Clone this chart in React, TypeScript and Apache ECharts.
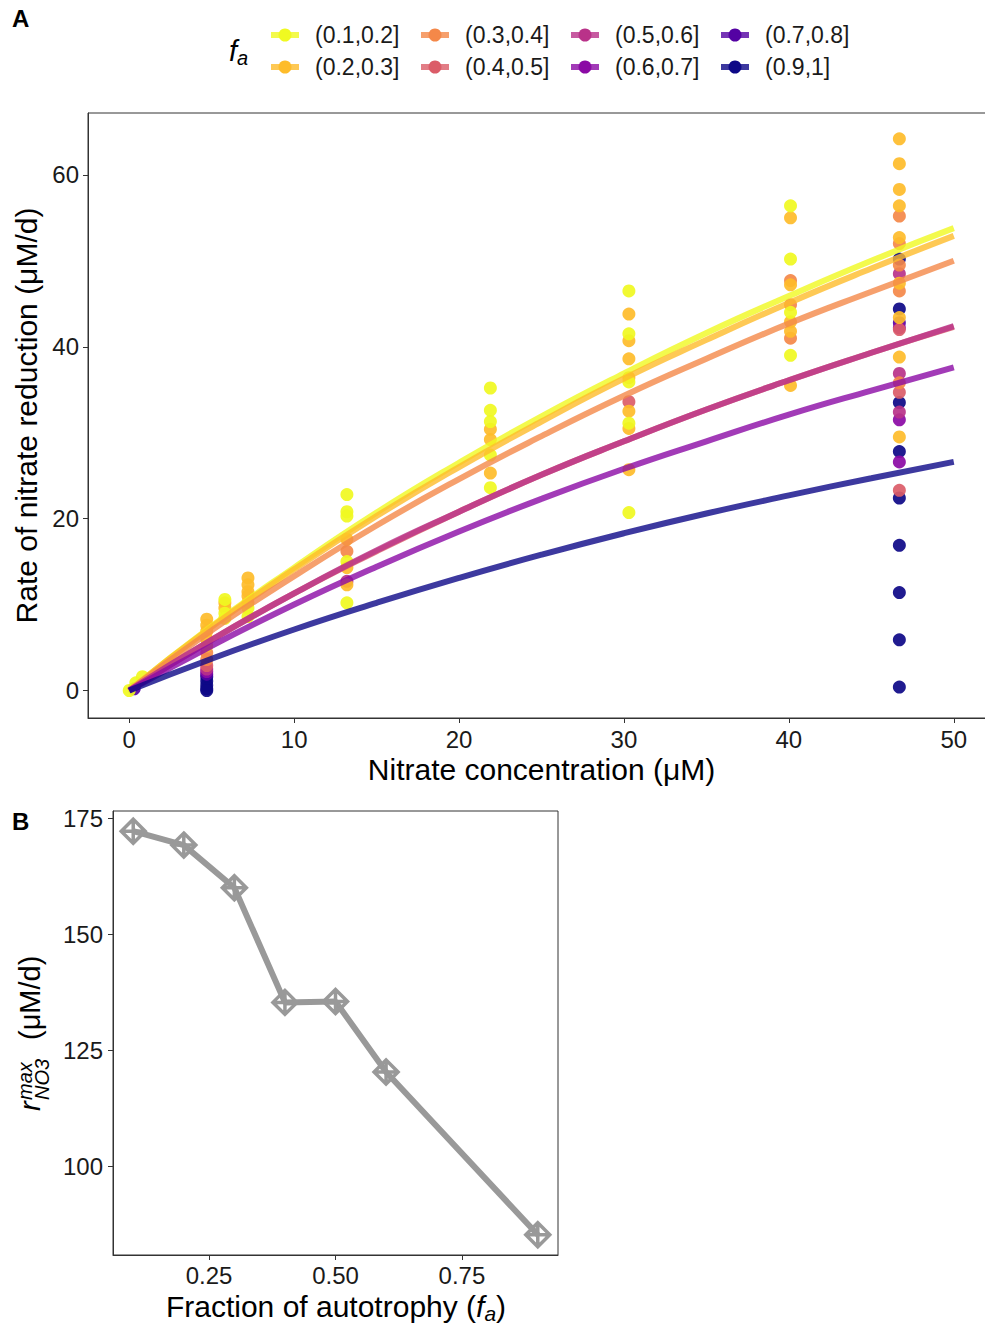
import React, { useEffect, useRef } from "react";
import * as echarts from "echarts";

// ---------- data ----------
const CATEGORIES = ["(0.1,0.2]", "(0.2,0.3]", "(0.3,0.4]", "(0.4,0.5]", "(0.5,0.6]", "(0.6,0.7]", "(0.7,0.8]", "(0.9,1]"];
const COLORS = ["#F0F921", "#FEBC2A", "#F48849", "#DB5C68", "#B93289", "#8B0AA5", "#5402A3", "#0D0887"];

// observed [nitrate concentration (uM), rate (uM/d)] per f_a class
const PTS_01_02 = [[0, 0], [0.4, 0.9], [0.8, 1.6], [5.8, 10.6], [5.8, 9.0], [5.8, 8.4], [7.2, 9.6], [7.2, 8.6], [13.2, 22.8], [13.2, 20.8], [13.2, 20.3], [13.2, 15.0], [13.2, 10.2], [21.9, 35.2], [21.9, 32.6], [21.9, 31.3], [21.9, 27.4], [21.9, 23.6], [30.3, 46.5], [30.3, 41.5], [30.3, 35.9], [30.3, 31.1], [30.3, 20.7], [40.1, 56.4], [40.1, 50.2], [40.1, 44.0], [40.1, 39.0]];
const PTS_02_03 = [[4.7, 8.3], [4.7, 7.6], [4.7, 6.9], [4.7, 6.0], [4.7, 5.2], [5.8, 10.2], [5.8, 9.6], [7.2, 13.1], [7.2, 12.3], [7.2, 11.5], [7.2, 11.0], [7.2, 10.2], [13.2, 17.6], [13.2, 14.3], [13.2, 12.3], [21.9, 30.4], [21.9, 29.2], [21.9, 25.3], [30.3, 43.8], [30.3, 40.7], [30.3, 38.6], [30.3, 36.4], [30.3, 32.5], [30.3, 30.5], [30.3, 25.7], [40.1, 55.0], [40.1, 47.2], [40.1, 42.9], [40.1, 41.8], [40.1, 35.5], [46.7, 64.2], [46.7, 61.3], [46.7, 58.3], [46.7, 56.4], [46.7, 52.7], [46.7, 47.4], [46.7, 43.4], [46.7, 38.8], [46.7, 29.5]];
const PTS_03_04 = [[4.7, 4.4], [4.7, 3.6], [13.2, 16.2], [40.1, 47.7], [40.1, 44.9], [40.1, 41.0], [46.7, 55.2], [46.7, 52.0], [46.7, 49.5], [46.7, 46.5], [46.7, 35.8]];
const PTS_04_05 = [[4.7, 2.9], [30.3, 33.6], [46.7, 42.0], [46.7, 34.7], [46.7, 23.3]];
const PTS_05_06 = [[4.7, 2.5], [13.2, 12.7], [46.7, 48.5], [46.7, 36.9], [46.7, 32.4]];
const PTS_06_07 = [[4.7, 2.2], [46.7, 42.2], [46.7, 31.5], [46.7, 26.6]];
const PTS_07_08 = [[0.3, 0.2], [4.7, 1.9], [46.7, 42.8]];
const PTS_09_1 = [[4.7, 1.6], [4.7, 1.1], [4.7, 0.6], [4.7, 0.2], [4.7, 0.0], [46.7, 50.2], [46.7, 44.4], [46.7, 33.5], [46.7, 27.8], [46.7, 22.4], [46.7, 16.9], [46.7, 11.4], [46.7, 5.9], [46.7, 0.4]];
const POINTS = [PTS_01_02, PTS_02_03, PTS_03_04, PTS_04_05, PTS_05_06, PTS_06_07, PTS_07_08, PTS_09_1];

// fitted curves at these concentrations
const FIT_X = [0, 5, 10, 15, 20, 25, 30, 35, 40, 45, 50];
const FIT_01_02 = [0, 7.5, 14.3, 20.7, 26.5, 31.9, 36.9, 41.6, 45.9, 50.0, 53.8];
const FIT_02_03 = [0, 7.4, 14.1, 20.3, 26.0, 31.3, 36.3, 40.8, 45.1, 49.1, 52.9];
const FIT_03_04 = [0, 7.0, 13.3, 19.2, 24.6, 29.6, 34.3, 38.6, 42.7, 46.4, 50.0];
const FIT_04_05 = [0, 5.9, 11.3, 16.2, 20.8, 25.1, 29.0, 32.7, 36.1, 39.3, 42.3];
const FIT_05_06 = [0, 5.9, 11.3, 16.3, 20.8, 25.1, 29.0, 32.7, 36.1, 39.3, 42.4];
const FIT_06_07 = [0, 5.2, 10.0, 14.4, 18.5, 22.3, 25.8, 29.0, 32.1, 34.9, 37.6];
const FIT_09_1 = [0, 3.7, 7.1, 10.2, 13.1, 15.8, 18.3, 20.6, 22.7, 24.7, 26.6];
const FITS: (number[] | null)[] = [FIT_01_02, FIT_02_03, FIT_03_04, FIT_04_05, FIT_05_06, FIT_06_07, null, FIT_09_1];

// panel B
const FA = [0.1, 0.2, 0.3, 0.4, 0.5, 0.6, 0.9];
const RMAX = [172.2, 169.2, 160.0, 135.3, 135.5, 120.3, 85.2];

const A_X_TICKS = [0, 10, 20, 30, 40, 50];
const A_Y_TICKS = [0, 20, 40, 60];
const B_X_TICKS = [0.25, 0.5, 0.75];
const B_Y_TICKS = [100, 125, 150, 175];

// ---------- chart ----------
const FONT = "'Liberation Sans', Arial, sans-serif";
const DIAMOND_PLUS = "path://M0,-10L10,0L0,10L-10,0Z M0,-10L0,10 M-10,0L10,0";

function axisCommon(ticks: number[], fmt?: (v: number) => string, margin = 9) {
  return {
    axisLine: { show: true, onZero: false, lineStyle: { color: "#333", width: 1 } },
    axisTick: { show: true, inside: false, length: 5, lineStyle: { color: "#333", width: 1 }, customValues: ticks },
    axisLabel: {
      customValues: ticks,
      fontSize: 24,
      color: "#1a1a1a",
      fontFamily: FONT,
      margin,
      formatter: fmt ? (v: number) => fmt(v) : undefined,
    },
    splitLine: { show: false },
  };
}

export default function App() {
  const ref = useRef<HTMLDivElement>(null);
  useEffect(() => {
    if (!ref.current) return;
    const chart = echarts.init(ref.current, undefined, { renderer: "svg" });

    const series: any[] = [];
    // points, drawn from the highest class down so yellow ends on top
    for (let i = CATEGORIES.length - 1; i >= 0; i--) {
      series.push({
        type: "scatter",
        name: CATEGORIES[i],
        xAxisIndex: 0,
        yAxisIndex: 0,
        data: POINTS[i],
        symbol: "circle",
        symbolSize: 13,
        itemStyle: { color: COLORS[i], opacity: 0.92 },
        z: 2,
      });
    }
    FITS.forEach((f, i) => {
      if (!f) return;
      series.push({
        type: "line",
        name: CATEGORIES[i] + " fit",
        xAxisIndex: 0,
        yAxisIndex: 0,
        data: FIT_X.map((x, j) => [x, f[j]]),
        smooth: true,
        showSymbol: false,
        symbol: "none",
        lineStyle: { color: COLORS[i], width: 6, opacity: 0.8 },
        z: 3,
      });
    });
    series.push({
      type: "line",
      name: "rmax",
      xAxisIndex: 1,
      yAxisIndex: 1,
      data: FA.map((f, i) => [f, RMAX[i]]),
      symbol: DIAMOND_PLUS,
      symbolSize: 24,
      showSymbol: true,
      lineStyle: { color: "#999999", width: 6 },
      itemStyle: { color: "rgba(0,0,0,0)", borderColor: "#999999", borderWidth: 3.5 },
      z: 3,
    });

    // legend drawn as graphic keys
    const legendEls: any[] = [];
    CATEGORIES.forEach((c, i) => {
      const col = Math.floor(i / 2);
      const row = i % 2;
      const kx = 271 + col * 150;
      const ky = 35 + row * 32;
      legendEls.push({
        type: "line",
        shape: { x1: kx, y1: ky, x2: kx + 28, y2: ky },
        style: { stroke: COLORS[i], lineWidth: 6, opacity: 0.8 },
      });
      legendEls.push({
        type: "circle",
        shape: { cx: kx + 14, cy: ky, r: 6.5 },
        style: { fill: COLORS[i] },
      });
      legendEls.push({
        type: "text",
        x: kx + 44,
        y: ky,
        style: { text: c, fontSize: 23, fontFamily: FONT, fill: "#1a1a1a", verticalAlign: "middle", align: "left" },
      });
    });

    const option: any = {
      animation: false,
      backgroundColor: "#ffffff",
      textStyle: { fontFamily: FONT },
      grid: [
        { left: 88, top: 113, width: 907, height: 605, show: true, borderColor: "#333", borderWidth: 1, backgroundColor: "transparent" },
        { left: 113, top: 811, width: 445, height: 444, show: true, borderColor: "#333", borderWidth: 1, backgroundColor: "transparent" },
      ],
      xAxis: [
        {
          type: "value", gridIndex: 0, min: -2.5, max: 52.5,
          ...axisCommon(A_X_TICKS, undefined, 9),
          name: "Nitrate concentration (μM)", nameLocation: "middle", nameGap: 36,
          nameTextStyle: { fontSize: 30, color: "#000", fontFamily: FONT },
        },
        {
          type: "value", gridIndex: 1, min: 0.06, max: 0.94,
          ...axisCommon(B_X_TICKS, (v) => v.toFixed(2), 8),
        },
      ],
      yAxis: [
        {
          type: "value", gridIndex: 0, min: -3.2, max: 67.2,
          ...axisCommon(A_Y_TICKS, undefined, 9),
          name: "Rate of nitrate reduction (μM/d)", nameLocation: "middle", nameGap: 46,
          nameTextStyle: { fontSize: 30, color: "#000", fontFamily: FONT },
        },
        {
          type: "value", gridIndex: 1, min: 80.85, max: 176.55,
          ...axisCommon(B_Y_TICKS, undefined, 10),
        },
      ],
      series,
      graphic: [
        { type: "text", x: 12, y: 18, style: { text: "A", fontSize: 24, fontWeight: "bold", fontFamily: FONT, fill: "#000", verticalAlign: "middle" } },
        { type: "text", x: 12, y: 821, style: { text: "B", fontSize: 24, fontWeight: "bold", fontFamily: FONT, fill: "#000", verticalAlign: "middle" } },
        {
          type: "text", x: 229, y: 51,
          style: {
            text: "{i|f}{s|a}", fontFamily: FONT, verticalAlign: "middle", align: "left",
            rich: {
              i: { fontSize: 29, fontStyle: "italic", fill: "#000", lineHeight: 34, fontFamily: FONT },
              s: { fontSize: 20, fontStyle: "italic", fill: "#000", lineHeight: 20, verticalAlign: "bottom", fontFamily: FONT },
            },
          },
        },
        ...legendEls,
        {
          type: "text", x: 336, y: 1306,
          style: {
            text: "{n|Fraction of autotrophy (}{i|f}{s|a}{n|)}", fontFamily: FONT, align: "center", verticalAlign: "middle",
            rich: {
              n: { fontSize: 30, fill: "#000", lineHeight: 35, fontFamily: FONT },
              i: { fontSize: 30, fontStyle: "italic", fill: "#000", lineHeight: 35, fontFamily: FONT },
              s: { fontSize: 21, fontStyle: "italic", fill: "#000", lineHeight: 21, verticalAlign: "bottom", fontFamily: FONT },
            },
          },
        },
        {
          type: "group", x: 40, y: 1111, rotation: Math.PI / 2,
          children: [
            { type: "text", x: 0, y: -10.2, style: { text: "r", fontSize: 29, fontStyle: "italic", fontFamily: FONT, fill: "#000", verticalAlign: "middle", align: "left" } },
            { type: "text", x: 11, y: -15.5, style: { text: "max", fontSize: 20, fontStyle: "italic", fontFamily: FONT, fill: "#000", verticalAlign: "middle", align: "left" } },
            { type: "text", x: 11, y: 1.5, style: { text: "NO3", fontSize: 20, fontStyle: "italic", fontFamily: FONT, fill: "#000", verticalAlign: "middle", align: "left" } },
            { type: "text", x: 71, y: -10.2, style: { text: "(μM/d)", fontSize: 29, fontFamily: FONT, fill: "#000", verticalAlign: "middle", align: "left" } },
          ],
        },
      ],
    };
    chart.setOption(option);
    return () => chart.dispose();
  }, []);

  return (
    <div style={{ position: "absolute", left: 0, top: 0, width: 985, height: 1324, overflow: "hidden" }}>
      <div ref={ref} style={{ position: "absolute", left: 0, top: 0, width: 1000, height: 1324 }} />
    </div>
  );
}
